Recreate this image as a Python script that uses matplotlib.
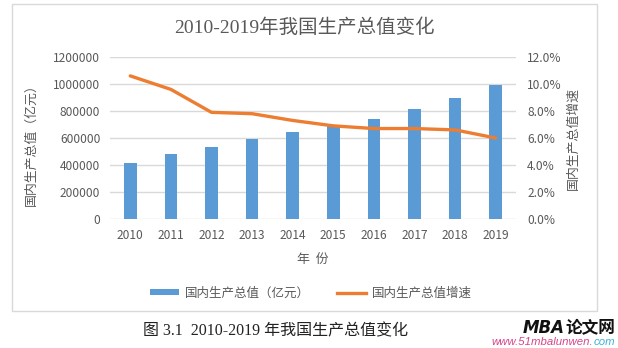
#!/usr/bin/env python3
"""GDP bars with growth-rate line on a twin axis, 2010-2019."""

import matplotlib

matplotlib.use("Agg")
import matplotlib.pyplot as plt
import numpy as np
from matplotlib.lines import Line2D
from matplotlib.patches import Patch, Rectangle

YEARS = ["2010", "2011", "2012", "2013", "2014", "2015", "2016", "2017", "2018", "2019"]
GDP = [413000, 484000, 534000, 590000, 644000, 686000, 740000, 818000, 900000, 992000]
GROWTH = [10.6, 9.6, 7.9, 7.8, 7.3, 6.9, 6.7, 6.7, 6.6, 6.0]

LEFT_TICKS = [0, 200000, 400000, 600000, 800000, 1000000, 1200000]
RIGHT_TICKS = [0, 2, 4, 6, 8, 10, 12]

TITLE = "2010-2019年我国生产总值变化"
Y_LABEL = "国内生产总值（亿元）"
Y2_LABEL = "国内生产总值增速"
X_LABEL = "年  份"
BAR_NAME = "国内生产总值（亿元）"
LINE_NAME = "国内生产总值增速"
CAPTION = "图 3.1  2010-2019 年我国生产总值变化"

BLUE = "#5b9bd5"
ORANGE = "#ed7d31"
GRAY = "#595959"
GRID = "#d9d9d9"
CJK = ["Noto Sans CJK SC", "DejaVu Sans"]
SERIF = ["Liberation Serif", "Noto Sans CJK SC"]

plt.rcParams["font.family"] = CJK

W, H = 618, 348
fig = plt.figure(figsize=(W / 100, H / 100), dpi=100)
fig.patch.set_facecolor("white")

# chart frame
fig.patches.append(Rectangle((12 / W, 1 - 311 / H), 585 / W, 307 / H,
                             transform=fig.transFigure, fill=False,
                             edgecolor=GRID, linewidth=1.0))

ax = fig.add_axes([110 / W, 1 - 219 / H, 406 / W, 162 / H])
ax2 = ax.twinx()

x = np.arange(len(YEARS))
ax.bar(x, GDP, width=0.31, color=BLUE, zorder=2)
ax2.plot(x, GROWTH, color=ORANGE, linewidth=2.4, solid_capstyle="round", zorder=3)

ax.set_xlim(-0.5, len(YEARS) - 0.5)
ax.set_ylim(0, 1200000)
ax2.set_ylim(0, 12)
ax.set_yticks(LEFT_TICKS)
ax.set_yticklabels([str(v) for v in LEFT_TICKS])
ax2.set_yticks(RIGHT_TICKS)
ax2.set_yticklabels([f"{v:.1f}%" for v in RIGHT_TICKS])
ax.set_xticks(x)
ax.set_xticklabels(YEARS)

for a in (ax, ax2):
    for s in a.spines.values():
        s.set_visible(False)
    a.tick_params(length=0, colors=GRAY, labelsize=8.6)
ax.tick_params(axis="y", pad=7)
ax2.tick_params(axis="y", pad=8)
ax.tick_params(axis="x", pad=7)

ax.set_axisbelow(True)
ax.yaxis.grid(True, color=GRID, linewidth=1.0)
ax.patch.set_visible(False)
ax2.patch.set_visible(False)
ax.set_zorder(1)
ax2.set_zorder(2)

ax.set_ylabel(Y_LABEL, color=GRAY, fontsize=9.3)
ax.yaxis.set_label_coords(-0.177, 0.48)
ax2.set_ylabel(Y2_LABEL, color=GRAY, fontsize=9.3, rotation=90)
ax2.yaxis.set_label_coords(1.126, 0.5)
ax.set_xlabel(X_LABEL, color=GRAY, fontsize=9.3)
ax.xaxis.set_label_coords(0.5, -0.21)

fig.text(304 / W, 1 - 28 / H, TITLE, ha="center", va="center",
         fontsize=14, color=GRAY, family=SERIF)

handles = [Patch(facecolor=BLUE, edgecolor="none"),
           Line2D([0], [0], color=ORANGE, linewidth=2.4)]
fig.legend(handles, [BAR_NAME, LINE_NAME], loc="center",
           bbox_to_anchor=(311 / W, 1 - 293 / H), ncol=2, frameon=False,
           fontsize=9, labelcolor=GRAY, handlelength=2.3, handleheight=0.45,
           handletextpad=0.45, columnspacing=2.2)

fig.text(143 / W, 1 - 331 / H, CAPTION, ha="left", va="center",
         fontsize=11.5, color="#222222", family=SERIF)

# watermark
wm = fig.text(615 / W, 1 - 328 / H, "论文网", ha="right", va="center",
              fontsize=12, fontweight="bold", color="#111111")
fig.text(0, 0, "")
ax.annotate("MBA", xy=(0, 0.5), xycoords=wm, ha="right", va="center",
            fontsize=12, fontweight="bold", style="italic", color="#111111",
            family="DejaVu Sans", annotation_clip=False)
t_com = fig.text(615 / W, 1 - 342 / H, "com", ha="right", va="center",
                 fontsize=8.2, style="italic", color="#3fb3d3",
                 family="Liberation Sans")
ax.annotate("www.51mbalunwen.", xy=(0, 0), xycoords=t_com, ha="right",
            va="bottom", fontsize=8.2, style="italic", color="#d6458a",
            family="Liberation Sans", annotation_clip=False)

fig.savefig("out.png", dpi=100)
